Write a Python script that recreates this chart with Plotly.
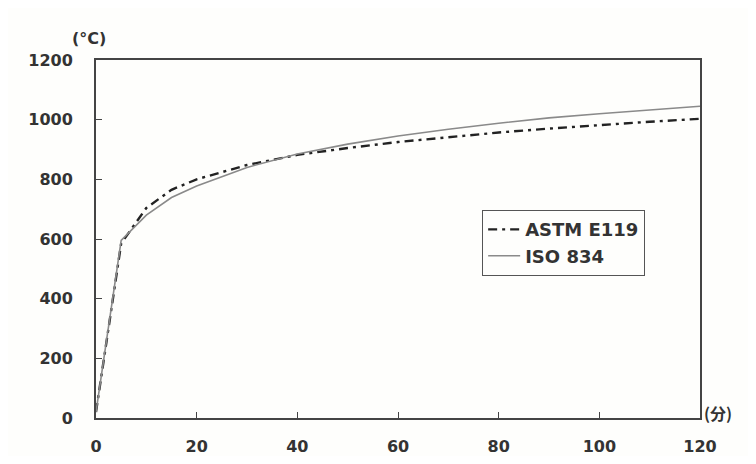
import plotly.graph_objects as go

# time in minutes
iso_t = [0, 5, 10, 15, 20, 30, 40, 50, 60, 70, 80, 90, 100, 110, 120]
iso_temp = [20, 595, 680, 739, 778, 840, 885, 918, 945, 968, 988, 1006, 1020, 1033, 1045]

astm_t = [0, 5, 10, 15, 20, 30, 40, 50, 60, 70, 80, 90, 100, 110, 120]
astm_temp = [20, 585, 704, 765, 800, 848, 882, 905, 925, 942, 957, 970, 982, 993, 1003]

x_ticks = [0, 20, 40, 60, 80, 100, 120]
y_ticks = [0, 200, 400, 600, 800, 1000, 1200]

font_family = "DejaVu Sans"
text_col = '#333333'

fig = go.Figure()

fig.add_trace(go.Scatter(
    x=astm_t, y=astm_temp,
    mode='lines',
    name='ASTM E119',
    line=dict(color='#222222', width=2.4, dash='9px,5px,3px,5px'),
))

fig.add_trace(go.Scatter(
    x=iso_t, y=iso_temp,
    mode='lines',
    name='ISO 834',
    line=dict(color='#8a8a8a', width=1.6),
))

# page body has an 8px margin, so the figure is sized to fit inside it
fig.update_layout(
    width=740, height=448,
    margin=dict(l=88, r=48, t=52, b=38, autoexpand=False),
    plot_bgcolor='#fefefc',
    paper_bgcolor='#fefefc',
    font=dict(family=font_family, size=16, color=text_col),
    legend=dict(
        x=0.639, y=0.581, xanchor='left', yanchor='top',
        bordercolor='#555555', borderwidth=1.2,
        bgcolor='#fefefc',
        font=dict(size=18, color=text_col, weight='bold'),
        tracegroupgap=0, itemwidth=32,
    ),
    xaxis=dict(
        range=[0, 120], tickvals=x_ticks,
        showgrid=False, zeroline=False,
        showline=True, linecolor='#444444', linewidth=2, mirror=True,
        ticks='inside', ticklen=6, tickcolor='#444444',
        ticklabelstandoff=13,
        tickfont=dict(size=16, weight='bold', color=text_col),
    ),
    yaxis=dict(
        range=[0, 1200], tickvals=y_ticks,
        showgrid=False, zeroline=False,
        showline=True, linecolor='#444444', linewidth=2, mirror=True,
        ticks='inside', ticklen=6, tickcolor='#444444',
        ticklabelstandoff=18,
        tickfont=dict(size=16, weight='bold', color=text_col),
    ),
)

fig.add_annotation(text='(°C)', xref='paper', yref='paper', x=-0.012, y=1.059,
                   xanchor='center', yanchor='middle', showarrow=False,
                   font=dict(size=16, weight='bold', color=text_col))
fig.add_annotation(text='(分)', xref='paper', yref='paper', x=1.003, y=0.015,
                   xanchor='left', yanchor='middle', showarrow=False,
                   font=dict(size=16, weight='bold', color=text_col,
                             family='Noto Sans CJK JP'))

fig.write_html("out.html")
